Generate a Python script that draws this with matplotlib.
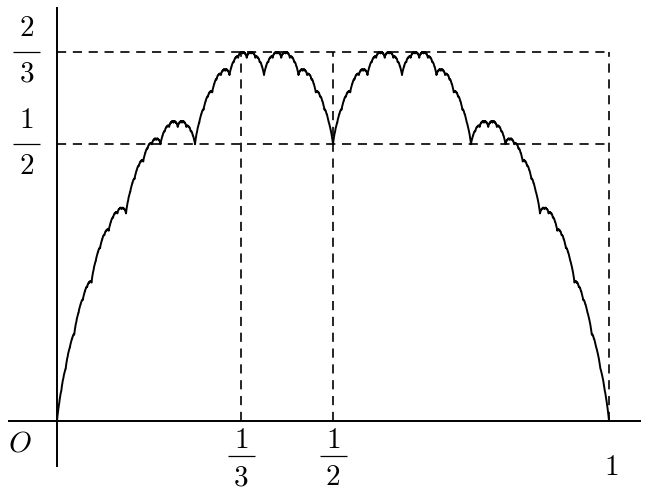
import numpy as np
import matplotlib
matplotlib.use("Agg")
import matplotlib.pyplot as plt

plt.rcParams['mathtext.fontset'] = 'cm'

# Takagi (blancmange) curve: T(x) = sum s(2^n x) / 2^n
n_terms = 14
n_samples = 4097
x_ticks = [1/3, 1/2]
x_tick_labels = [('1', '3'), ('1', '2')]
y_ticks = [1/2, 2/3]
y_tick_labels = [('1', '2'), ('2', '3')]

x = np.linspace(0, 1, n_samples)
y = np.zeros_like(x)
for n in range(n_terms):
    t = (2.0 ** n) * x
    y += np.abs(t - np.round(t)) / 2.0 ** n

X0, XS = 57.0, 552.0
Y0, YS = 421.0, 553.5


def dx(px):
    return px / XS


def dy(py):
    return py / YS


fig = plt.figure(figsize=(6.56, 5.00), dpi=100)
ax = fig.add_axes([0, 0, 1, 1])
ax.set_xlim(-X0 / XS, (656 - X0) / XS)
ax.set_ylim(-(500 - Y0) / YS, Y0 / YS)
ax.axis('off')

# axes lines
ax.plot([dx(8 - X0), dx(641 - X0)], [0, 0], color='black', lw=1.4, solid_capstyle='butt')
ax.plot([0, 0], [dy(Y0 - 467), dy(Y0 - 7)], color='black', lw=1.4, solid_capstyle='butt')

# curve
ax.plot(x, y, color='black', lw=1.4)

dash = dict(color='black', lw=1.2, linestyle=(0, (5.5, 4)))
ax.plot([0, 1], [2/3, 2/3], **dash)
ax.plot([0, 1], [1/2, 1/2], **dash)
ax.plot([1/3, 1/3], [0, 2/3], **dash)
ax.plot([1/2, 1/2], [0, 2/3], **dash)
ax.plot([1, 1], [0, 2/3], **dash)

fs = 21


def frac(xc, ybar, num, den, up, down, half=13.5):
    ax.text(xc, ybar + dy(up), '$' + num + '$', fontsize=fs, ha='center', va='center')
    ax.text(xc, ybar - dy(down), '$' + den + '$', fontsize=fs, ha='center', va='center')
    ax.plot([xc - dx(half), xc + dx(half)], [ybar, ybar], color='black', lw=0.9,
            solid_capstyle='butt')


ax.text(dx(20 - X0), dy(Y0 - 443), r'$O$', fontsize=fs, ha='center', va='center')
ax.text(1 + dx(2), dy(Y0 - 467), r'$1$', fontsize=fs, ha='center', va='center')
for xv, (nu, de) in zip(x_ticks, x_tick_labels):
    frac(xv, dy(Y0 - 456), nu, de, 16, 21)
for yv, (nu, de) in zip(y_ticks, y_tick_labels):
    frac(dx(26.5 - X0), yv, nu, de, 24, 22)

fig.savefig('out.png', dpi=100)
